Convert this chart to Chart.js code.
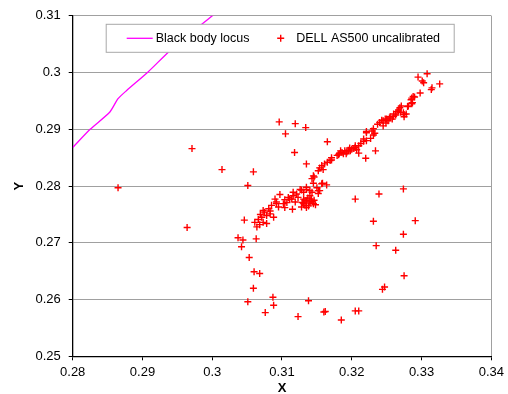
<!DOCTYPE html>
<html lang="en">
<head>
  <meta charset="UTF-8" />
  <title>Chromaticity</title>
  <script src="https://cdn.jsdelivr.net/npm/chart.js"></script>
  <style>
    body { margin: 0; background: #fff; }
    #wrap { width: 508px; height: 394px; }
  </style>
</head>
<body>
  <div id="wrap"><canvas id="cie" width="508" height="394"></canvas></div>

<script>
  // black body locus
  const locusX = [0.2800, 0.2825, 0.2853, 0.2865, 0.2877, 0.2908, 0.2939, 0.2985, 0.3003];
  const locusY = [0.2868, 0.2900, 0.2930, 0.2954, 0.2968, 0.3001, 0.3038, 0.3085, 0.3103];

  // measured points, DELL AS500 uncalibrated
  const dellX = [
    0.2865, 0.2964, 0.2971, 0.3014, 0.3051, 0.3059, 0.3046, 0.3037, 0.3044, 0.3042,
    0.3053, 0.3060, 0.3068, 0.3059, 0.3051, 0.3087, 0.3088, 0.3076, 0.3123, 0.3138,
    0.3160, 0.3162, 0.3185, 0.3205, 0.3210, 0.3244, 0.3247, 0.3275, 0.3263, 0.3235,
    0.3274, 0.3231, 0.3291, 0.3205, 0.3239, 0.3274, 0.3096, 0.3119, 0.3134, 0.3105,
    0.3165, 0.3118, 0.3135, 0.3220, 0.3234,
    0.3063, 0.3064, 0.3068, 0.3061, 0.3073, 0.3078, 0.3066, 0.3071, 0.3088, 0.3078,
    0.3083, 0.3073, 0.3075, 0.3085, 0.3092, 0.3104, 0.3115, 0.3102, 0.3090, 0.3092,
    0.3104, 0.3111, 0.3114, 0.3097, 0.3109, 0.3116, 0.3116, 0.3123, 0.3121, 0.3131,
    0.3128, 0.3133, 0.3135, 0.3133, 0.3135, 0.3131, 0.3140, 0.3140, 0.3143, 0.3145,
    0.3148, 0.3126, 0.3128, 0.3131, 0.3135, 0.3135, 0.3140, 0.3140, 0.3143, 0.3150,
    0.3152, 0.3152, 0.3154, 0.3145, 0.3158, 0.3157, 0.3164, 0.3143, 0.3145, 0.3146,
    0.3152, 0.3159, 0.3154, 0.3157, 0.3161, 0.3165, 0.3169, 0.3171, 0.3171, 0.3179,
    0.3181, 0.3186, 0.3190, 0.3192, 0.3195, 0.3197, 0.3200, 0.3205, 0.3205, 0.3210,
    0.3210, 0.3213, 0.3217, 0.3217, 0.3221, 0.3221, 0.3221, 0.3227, 0.3229, 0.3231,
    0.3231, 0.3233, 0.3240, 0.3243, 0.3245, 0.3245, 0.3248, 0.3250, 0.3254, 0.3255,
    0.3260, 0.3260, 0.3267, 0.3267, 0.3265, 0.3269, 0.3271, 0.3274, 0.3275, 0.3275,
    0.3278, 0.3280, 0.3281, 0.3286, 0.3287, 0.3285, 0.3286, 0.3288, 0.3290, 0.3298,
    0.3314, 0.3315, 0.3326, 0.3301, 0.3303, 0.3295, 0.3308, 0.3184, 0.3188, 0.3083,
    0.3137, 0.3142, 0.3129, 0.3138, 0.3146, 0.3119, 0.3107, 0.3095, 0.3081, 0.3069,
    0.3252, 0.3258, 0.3263, 0.3249, 0.3237, 0.3270, 0.3198, 0.3203, 0.3193, 0.3207,
    0.3182
  ];
  const dellY = [
    0.2797, 0.2727, 0.2866, 0.2829, 0.2801, 0.2825, 0.2740, 0.2709, 0.2705, 0.2693,
    0.2674, 0.2649, 0.2646, 0.2620, 0.2596, 0.2604, 0.2590, 0.2577, 0.2570, 0.2598,
    0.2578, 0.2579, 0.2564, 0.2580, 0.2580, 0.2618, 0.2622, 0.2642, 0.2687, 0.2695,
    0.2715, 0.2738, 0.2739, 0.2777, 0.2786, 0.2795, 0.2913, 0.2910, 0.2903, 0.2892,
    0.2878, 0.2859, 0.2839, 0.2849, 0.2862,
    0.2707, 0.2728, 0.2732, 0.2736, 0.2736, 0.2734, 0.2741, 0.2745, 0.2745, 0.2748,
    0.2751, 0.2757, 0.2754, 0.2766, 0.2769, 0.2762, 0.2759, 0.2769, 0.2777, 0.2772,
    0.2776, 0.2777, 0.2777, 0.2785, 0.2780, 0.2783, 0.2789, 0.2780, 0.2786, 0.2769,
    0.2763, 0.2766, 0.2762, 0.2774, 0.2774, 0.2777, 0.2772, 0.2770, 0.2773, 0.2769,
    0.2767, 0.2794, 0.2793, 0.2789, 0.2794, 0.2798, 0.2792, 0.2783, 0.2789, 0.2797,
    0.2792, 0.2787, 0.2792, 0.2805, 0.2805, 0.2804, 0.2802, 0.2813, 0.2818, 0.2816,
    0.2827, 0.2829, 0.2832, 0.2836, 0.2839, 0.2842, 0.2845, 0.2846, 0.2850, 0.2854,
    0.2855, 0.2859, 0.2862, 0.2857, 0.2863, 0.2867, 0.2865, 0.2868, 0.2871, 0.2871,
    0.2858, 0.2875, 0.2879, 0.2883, 0.2880, 0.2894, 0.2896, 0.2884, 0.2897, 0.2890,
    0.2901, 0.2893, 0.2912, 0.2916, 0.2906, 0.2915, 0.2918, 0.2918, 0.2920, 0.2922,
    0.2923, 0.2927, 0.2932, 0.2934, 0.2931, 0.2938, 0.2941, 0.2929, 0.2922, 0.2926,
    0.2927, 0.2940, 0.2941, 0.2945, 0.2947, 0.2952, 0.2955, 0.2958, 0.2957, 0.2964,
    0.2970, 0.2973, 0.2980, 0.2985, 0.2982, 0.2992, 0.2998, 0.2862, 0.2857, 0.2756,
    0.2779, 0.2777, 0.2771, 0.2765, 0.2775, 0.2772, 0.2771, 0.2763, 0.2760, 0.2750,
    0.2915, 0.2918, 0.2925, 0.2911, 0.2909, 0.2930, 0.2862, 0.2866, 0.2860, 0.2864,
    0.2857
  ];

  const xTicksMin = 0.28, xTicksMax = 0.34;
  const yTicksMin = 0.25, yTicksMax = 0.31;
  const tickStep = 0.01;

  const FONT = "'Liberation Sans', Arial, Helvetica, sans-serif";
  const GRID = '#a0a0a0';

  const toPts = (xs, ys) => xs.map((x, i) => ({ x: x, y: ys[i] }));
  const fmt = v => String(parseFloat(v.toFixed(2)));

  // boxed legend drawn on top of the plot area, like the original
  const boxedLegend = {
    id: 'boxedLegend',
    afterDatasetsDraw(chart) {
      const { ctx, chartArea } = chart;
      const left = chartArea.left + 33.5, top = chartArea.top + 8.5;
      const w = 348, h = 28, cy = top + h / 2;
      const sets = chart.data.datasets;
      ctx.save();
      ctx.fillStyle = '#ffffff';
      ctx.fillRect(left, top, w, h);
      ctx.strokeStyle = '#a8a8a8';
      ctx.lineWidth = 1;
      ctx.strokeRect(left, top, w, h);

      ctx.font = '12.5px ' + FONT;
      ctx.textBaseline = 'middle';
      ctx.fillStyle = '#000';

      // line sample
      ctx.strokeStyle = sets[0].borderColor;
      ctx.lineWidth = 1.3;
      ctx.beginPath();
      ctx.moveTo(left + 20.5, cy);
      ctx.lineTo(left + 46.5, cy);
      ctx.stroke();
      ctx.fillText(sets[0].label, left + 49.5, cy + 0.5);

      // cross sample
      const mx = left + 174.5;
      ctx.strokeStyle = sets[1].borderColor;
      ctx.lineWidth = 1.4;
      ctx.beginPath();
      ctx.moveTo(mx - 3.5, cy); ctx.lineTo(mx + 3.5, cy);
      ctx.moveTo(mx, cy - 3.5); ctx.lineTo(mx, cy + 3.5);
      ctx.stroke();
      ctx.fillText(sets[1].label, left + 190, cy + 0.5);
      ctx.restore();
    }
  };

  new Chart(document.getElementById('cie'), {
    type: 'scatter',
    data: {
      datasets: [
        {
          label: 'Black body locus',
          data: toPts(locusX, locusY),
          showLine: true,
          borderColor: '#ff00ff',
          borderWidth: 1.3,
          pointRadius: 0,
          tension: 0.2
        },
        {
          label: 'DELL AS500 uncalibrated',
          data: toPts(dellX, dellY),
          pointStyle: 'cross',
          pointRadius: 3.5,
          borderColor: '#ff0000',
          backgroundColor: '#ff0000',
          pointBorderWidth: 1.4
        }
      ]
    },
    options: {
      responsive: false,
      animation: false,
      events: [],
      layout: { padding: { left: 0, top: 14.7, right: 16.7, bottom: 0 } },
      plugins: {
        legend: { display: false },
        tooltip: { enabled: false }
      },
      scales: {
        x: {
          type: 'linear',
          min: xTicksMin,
          max: xTicksMax,
          afterFit: s => { s.height = 37.7; },
          ticks: {
            stepSize: tickStep,
            callback: fmt,
            color: '#000',
            padding: 4,
            font: { family: FONT, size: 13 }
          },
          grid: {
            color: c => (c.index === 6 ? GRID : 'rgba(0,0,0,0)'),
            tickColor: '#000',
            tickLength: 4
          },
          border: { color: '#000', width: 1.3 },
          title: {
            display: true,
            text: 'X',
            color: '#000',
            padding: 0,
            font: { family: FONT, size: 13, weight: 'bold', lineHeight: 0.9 }
          }
        },
        y: {
          type: 'linear',
          min: yTicksMin,
          max: yTicksMax,
          afterFit: s => { s.width = 72.7; },
          ticks: {
            stepSize: tickStep,
            callback: fmt,
            color: '#000',
            padding: 8,
            font: { family: FONT, size: 13 }
          },
          grid: { color: GRID, tickColor: '#000', tickLength: 4 },
          border: { color: '#000', width: 1.3 },
          title: {
            display: true,
            text: 'Y',
            color: '#000',
            padding: { top: 12, bottom: 0 },
            font: { family: FONT, size: 13, weight: 'bold' }
          }
        }
      }
    },
    plugins: [boxedLegend]
  });
</script>
</body>
</html>
